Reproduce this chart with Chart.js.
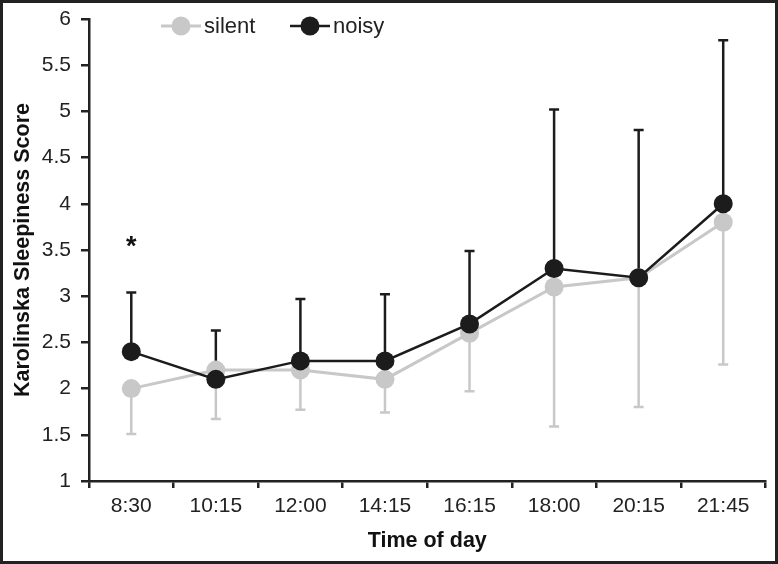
<!DOCTYPE html>
<html><head><meta charset="utf-8">
<script src="https://cdn.jsdelivr.net/npm/chart.js@4/dist/chart.umd.min.js"></script>
<style>
html,body{margin:0;padding:0;background:#fff}
#wrap{width:778px;height:564px;box-sizing:border-box;border:3px solid #222;background:#fff}
canvas{display:block}
</style></head><body>
<div id="wrap"><canvas id="c" width="772" height="558"></canvas></div>
<script>
const times = ['8:30', '10:15', '12:00', '14:15', '16:15', '18:00', '20:15', '21:45'];
const silent = [2.0, 2.2, 2.2, 2.1, 2.6, 3.1, 3.2, 3.8];
const silentLow = [1.51, 1.67, 1.77, 1.74, 1.97, 1.59, 1.80, 2.26];
const noisy = [2.4, 2.1, 2.3, 2.3, 2.7, 3.3, 3.2, 4.0];
const noisyHigh = [3.04, 2.63, 2.97, 3.02, 3.49, 5.02, 4.80, 5.77];
const stars = ['*', '', '', '', '', '', '', ''];
const starLevel = 3.55;

const GREY = '#c8c8c8';
const BLACK = '#1c1c1c';
const FONT = 'Liberation Sans, Arial, sans-serif';

// error bars: silent goes down, noisy goes up
const errorBars = {
  id: 'errorBars',
  beforeDatasetsDraw(chart) {
    const { ctx, scales: { x, y } } = chart;
    const draw = (vals, ends, color) => {
      ctx.save();
      ctx.strokeStyle = color;
      ctx.lineWidth = 2.5;
      vals.forEach((v, i) => {
        const px = x.getPixelForValue(i);
        const y0 = y.getPixelForValue(v);
        const y1 = y.getPixelForValue(ends[i]);
        ctx.beginPath();
        ctx.moveTo(px, y0); ctx.lineTo(px, y1);
        ctx.moveTo(px - 5, y1); ctx.lineTo(px + 5, y1);
        ctx.stroke();
      });
      ctx.restore();
    };
    draw(silent, silentLow, GREY);
    draw(noisy, noisyHigh, BLACK);
  },
  afterDatasetsDraw(chart) {
    const { ctx, scales: { x, y } } = chart;
    ctx.save();
    ctx.fillStyle = '#111';
    ctx.font = 'bold 27px ' + FONT;
    ctx.textAlign = 'center';
    ctx.textBaseline = 'middle';
    stars.forEach((s, i) => {
      if (s) ctx.fillText(s, x.getPixelForValue(i), y.getPixelForValue(starLevel) + 2);
    });
    // legend: line + marker + label
    const items = [['silent', GREY, 3, 158], ['noisy', BLACK, 2.5, 287]];
    ctx.font = '22px ' + FONT;
    ctx.textAlign = 'left';
    items.forEach(([label, color, w, lx]) => {
      const ly = 23;
      ctx.strokeStyle = color;
      ctx.lineWidth = w;
      ctx.beginPath(); ctx.moveTo(lx, ly); ctx.lineTo(lx + 40, ly); ctx.stroke();
      ctx.fillStyle = color;
      ctx.beginPath(); ctx.arc(lx + 20, ly, 9.5, 0, Math.PI * 2); ctx.fill();
      ctx.fillStyle = '#222';
      ctx.fillText(label, lx + 43, ly + 1);
    });
    ctx.restore();
  }
};

new Chart(document.getElementById('c'), {
  type: 'line',
  data: {
    labels: times,
    datasets: [
      { label: 'silent', data: silent, borderColor: GREY, backgroundColor: GREY, borderWidth: 3,
        pointRadius: 9.5, pointBackgroundColor: GREY, pointBorderWidth: 0, order: 2 },
      { label: 'noisy', data: noisy, borderColor: BLACK, backgroundColor: BLACK, borderWidth: 2.5,
        pointRadius: 9.5, pointBackgroundColor: BLACK, pointBorderWidth: 0, order: 1 }
    ]
  },
  options: {
    responsive: false,
    animation: false,
    layout: { padding: { top: 16, right: 9 } },
    plugins: { legend: { display: false }, tooltip: { enabled: false } },
    scales: {
      x: {
        offset: true,
        grid: { offset: true, drawOnChartArea: false, tickLength: 7, color: '#222', lineWidth: 2.5 },
        border: { color: '#222', width: 2.5 },
        ticks: { color: '#222', font: { family: FONT, size: 21 }, padding: 6, maxRotation: 0 },
        title: { display: true, text: 'Time of day', color: '#111', font: { family: FONT, size: 21.5, weight: 'bold' }, padding: { top: 4, bottom: 7 } },
        afterFit(s) { s.height = 80; }
      },
      y: {
        min: 1, max: 6,
        ticks: { stepSize: 0.5, color: '#222', font: { family: FONT, size: 21 }, padding: 10, callback: v => String(v) },
        grid: { drawOnChartArea: false, tickLength: 8, color: '#222', lineWidth: 2.5 },
        border: { color: '#222', width: 2.5 },
        title: { display: true, text: 'Karolinska Sleepiness Score', color: '#111', font: { family: FONT, size: 21.5, weight: 'bold' }, padding: { top: 7, bottom: 0 } },
        afterFit(s) { s.width = 86; s.paddingTop = 0; s.paddingBottom = 0; }
      }
    }
  },
  plugins: [errorBars]
});
</script>
</body></html>
